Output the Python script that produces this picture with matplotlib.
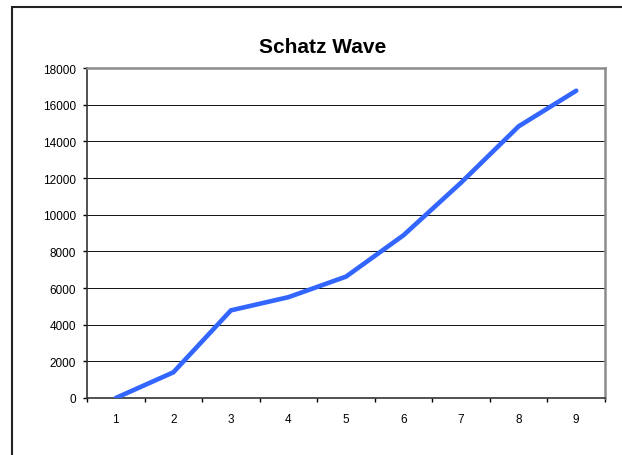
import matplotlib.pyplot as plt
from matplotlib.patches import Rectangle
from matplotlib.ticker import FixedLocator

# data
categories = [1, 2, 3, 4, 5, 6, 7, 8, 9]
values = [0, 1400, 4780, 5500, 6620, 8880, 11750, 14820, 16760]
yticks = [0, 2000, 4000, 6000, 8000, 10000, 12000, 14000, 16000, 18000]

plt.rcParams['font.family'] = ['Liberation Sans', 'DejaVu Sans']

W, H = 622, 456
fig = plt.figure(figsize=(W / 100, H / 100), dpi=100)

# outer chart frame (runs off the right and bottom of the picture)
fig.patches.append(Rectangle((12 / W, -0.1), 1.2, 1 - 8 / H + 0.1,
                             transform=fig.transFigure, fill=False,
                             edgecolor='#222222', linewidth=1.5))

# plot area
ax = fig.add_axes([87 / W, 57 / H, 518 / W, 330 / H])
ax.plot(range(len(categories)), values, color='#3366ff', linewidth=3.3,
        solid_joinstyle='miter', solid_capstyle='round', zorder=3)

ax.set_xlim(-0.5, len(categories) - 0.5)
ax.set_ylim(0, 18000)
ax.set_yticks(yticks)
ax.set_yticklabels([str(v) for v in yticks])
ax.set_xticks(range(len(categories)))
ax.set_xticklabels([str(c) for c in categories])
ax.xaxis.set_minor_locator(FixedLocator([i - 0.5 for i in range(len(categories) + 1)]))

ax.yaxis.grid(True, color='#111111', linewidth=0.7)
ax.set_axisbelow(True)

ax.tick_params(axis='x', which='major', length=0, pad=11, labelsize=8.5)
ax.tick_params(axis='x', which='minor', length=3, width=1, direction='out')
ax.tick_params(axis='y', length=3, width=1, direction='out', pad=5, labelsize=8.5)

for side in ['left', 'bottom']:
    ax.spines[side].set_color('#333333')
    ax.spines[side].set_linewidth(1.2)
for side in ['top', 'right']:
    ax.spines[side].set_color('#8c8c8c')
    ax.spines[side].set_linewidth(1.8)

fig.text(323 / W, 1 - 53 / H, 'Schatz Wave', ha='center', va='baseline',
         fontsize=15, fontweight='bold')

fig.savefig('out.png', dpi=100)
